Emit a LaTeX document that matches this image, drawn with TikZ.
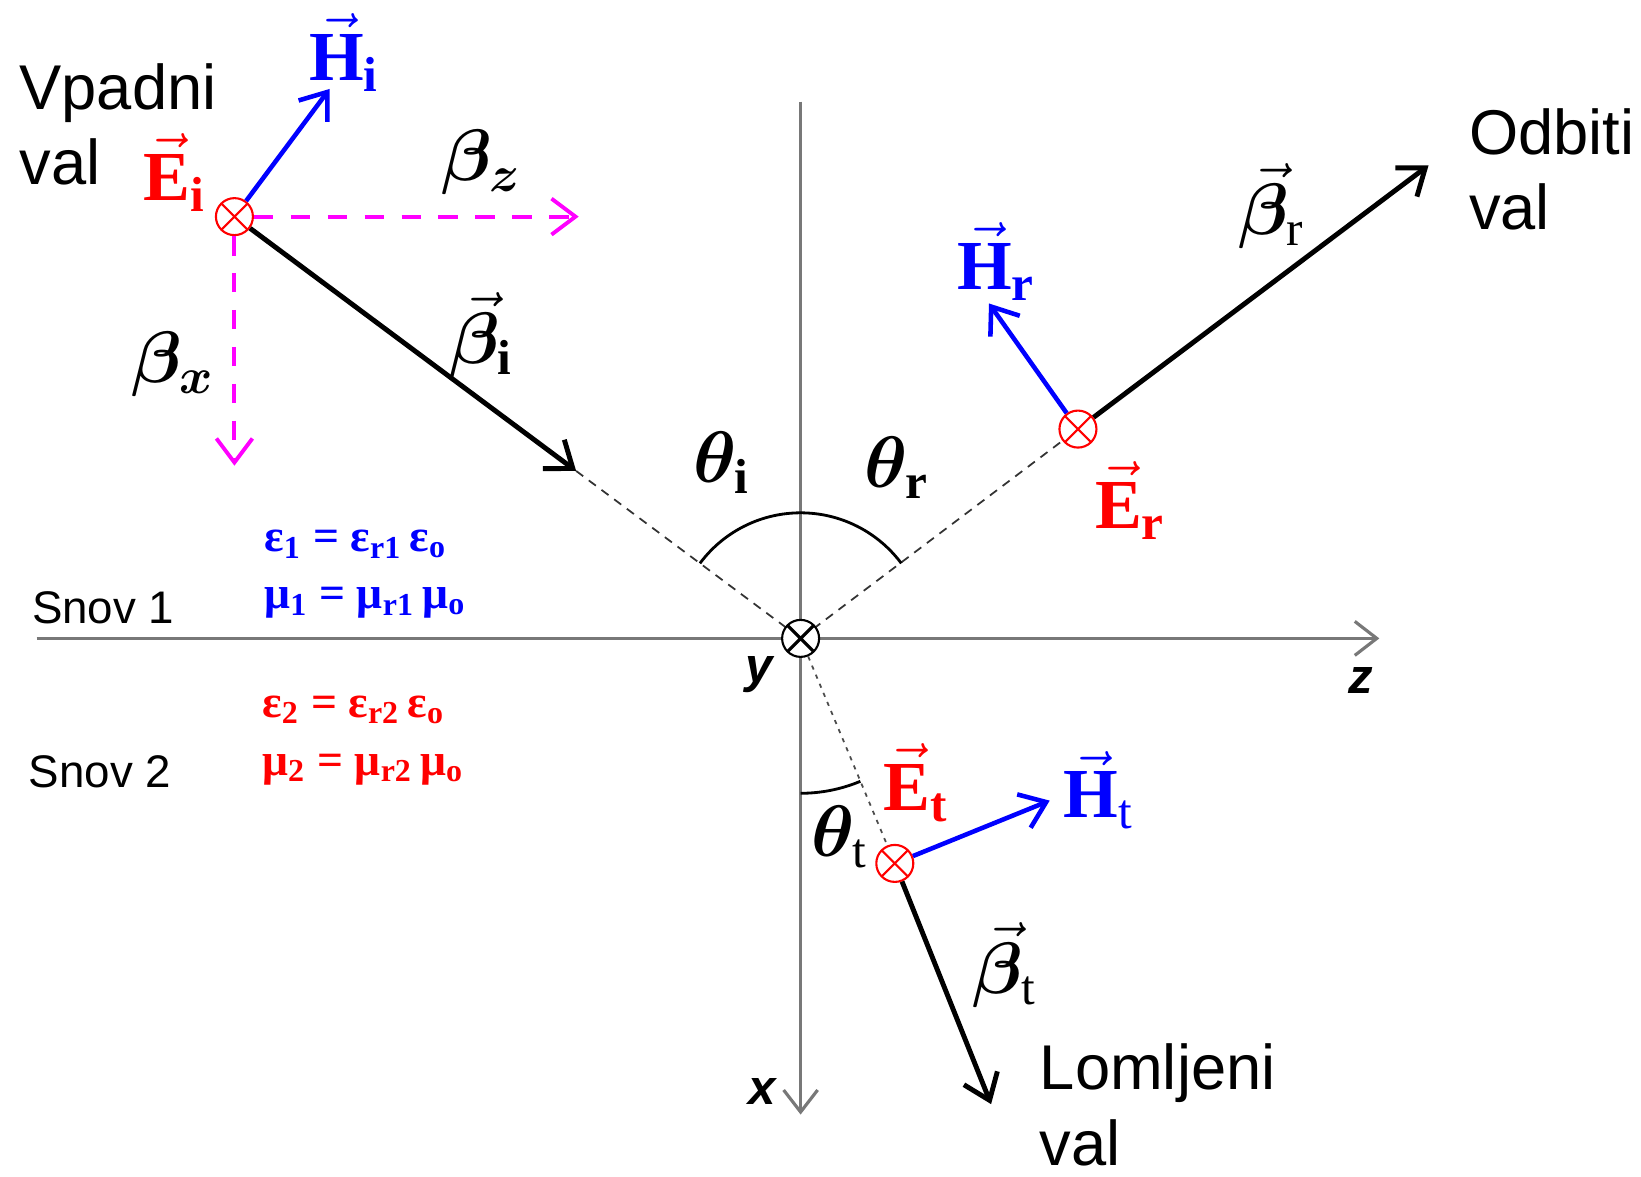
\documentclass[tikz,border=0pt]{standalone}
\usepackage{bm}
\usepackage{fontspec}
\setmainfont{Liberation Serif}
\setsansfont{Liberation Sans}
\usetikzlibrary{arrows.meta}
\tikzset{>={Straight Barb[length=2.4mm, width=3.6mm]}}
\definecolor{axisgray}{RGB}{120,120,120}
\definecolor{compmag}{RGB}{255,0,255}

\begin{document}
\begin{tikzpicture}[
    x=1.0466cm, y=1.0466cm,
    axis/.style={->, draw=axisgray, line width=0.9pt,
                 >={Straight Barb[length=2.2mm, width=3.4mm]}},
    axlabel/.style={font=\sffamily\bfseries\itshape\fontsize{14}{16}\selectfont,
                    inner sep=0pt},
    field/.style={circle, draw=red, fill=white, line width=0.6pt,
                  minimum size=3.7mm, inner sep=0pt,
                  path picture={\draw[red, line width=0.6pt]
                    (path picture bounding box.south west) -- (path picture bounding box.north east)
                    (path picture bounding box.north west) -- (path picture bounding box.south east);}},
    origin/.style={field, draw=black, path picture={\draw[black, line width=0.9pt]
                    (path picture bounding box.south west) -- (path picture bounding box.north east)
                    (path picture bounding box.north west) -- (path picture bounding box.south east);}},
    bvec/.style={->, line width=1.4pt},
    hvec/.style={->, blue, line width=1.3pt},
    comp/.style={->, compmag, line width=1.1pt, dash pattern=on 5.5pt off 5pt},
    guide/.style={black!80, line width=0.5pt, dash pattern=on 2.5pt off 2pt},
    dotguide/.style={black!70, line width=0.5pt, dash pattern=on 1.2pt off 1.6pt},
    angarc/.style={line width=0.8pt},
    sym/.style={font=\fontsize{20}{24}\selectfont, inner sep=0pt},
    wave/.style={font=\sffamily\fontsize{18}{21.5}\selectfont, align=left,
                 anchor=north west, inner sep=0pt},
    medium/.style={font=\sffamily\fontsize{13}{16}\selectfont, anchor=west, inner sep=0pt},
    eq/.style={font=\bfseries\fontsize{13}{16}\selectfont, anchor=west, inner sep=0pt},
  ]
  \useasboundingbox (-7.65,6.10) rectangle (8.03,-5.14);

  % axes
  \coordinate (zstart) at (-7.30,0);
  \coordinate (zend)   at (5.53,0);
  \coordinate (xstart) at (0,5.13);
  \coordinate (xend)   at (0,-4.55);
  \draw[axis] (zstart) -- (zend);
  \draw[axis] (xstart) -- (xend);
  \node[axlabel] (zlab) at (5.35,-0.40) {z};
  \node[axlabel] (xlab) at (-0.37,-4.33) {x};
  \node[axlabel] (ylab) at (-0.40,-0.35) {y};

  % media
  \node[medium] (snov1) at (-7.35,0.29) {Snov 1};
  \node[medium] (snov2) at (-7.38,-1.27) {Snov 2};
  \node[eq, blue] (eps1) at (-5.13,0.90) {ε\textsubscript{1} = ε\textsubscript{r1}\,ε\textsubscript{o}};
  \node[eq, blue] (mu1)  at (-5.13,0.34) {μ\textsubscript{1} = μ\textsubscript{r1}\,μ\textsubscript{o}};
  \node[eq, red]  (eps2) at (-5.15,-0.68) {ε\textsubscript{2} = ε\textsubscript{r2}\,ε\textsubscript{o}};
  \node[eq, red]  (mu2)  at (-5.15,-1.25) {μ\textsubscript{2} = μ\textsubscript{r2}\,μ\textsubscript{o}};

  % incident wave
  \node[field] (Ei) at (-5.41,4.03) {};
  \coordinate (Hitip) at (-4.50,5.25);
  \coordinate (bitip) at (-2.145,1.60);
  \coordinate (bztip) at (-2.12,4.03);
  \coordinate (bxtip) at (-5.41,1.65);
  \draw[guide] (bitip) -- (0,0);
  \draw[comp] (Ei) -- (bztip);
  \draw[comp] (Ei) -- (bxtip);
  \draw[bvec] (Ei) -- (bitip);
  \draw[hvec] (Ei) -- (Hitip);
  \node[sym, red]  (Eilab) at (-5.98,4.45) {$\vec{\mathbf{E}}_{\mathbf{i}}$};
  \node[sym, blue] (Hilab) at (-4.36,5.60) {$\vec{\mathbf{H}}_{\mathbf{i}}$};
  \node[sym] (bzlab) at (-3.05,4.55) {$\bm{\beta}_{\bm{z}}$};
  \node[sym] (bxlab) at (-6.00,2.62) {$\bm{\beta}_{\bm{x}}$};
  \node[sym] (bilab) at (-3.05,2.90) {$\vec{\bm{\beta}}_{\mathbf{i}}$};
  \node[wave] (vpadni) at (-7.47,5.50) {Vpadni\\val};

  % reflected wave
  \node[field] (Er) at (2.65,2.00) {};
  \coordinate (Hrtip) at (1.80,3.20);
  \coordinate (brtip) at (6.00,4.52);
  \draw[guide] (0,0) -- (Er);
  \draw[bvec] (Er) -- (brtip);
  \draw[hvec] (Er) -- (Hrtip);
  \node[sym, red]  (Erlab) at (3.15,1.32) {$\vec{\mathbf{E}}_{\mathbf{r}}$};
  \node[sym, blue] (Hrlab) at (1.87,3.60) {$\vec{\mathbf{H}}_{\mathbf{r}}$};
  \node[sym] (brlab) at (4.50,4.13) {$\vec{\bm{\beta}}_{\mathrm{r}}$};
  \node[wave] (odbiti) at (6.38,5.07) {Odbiti\\val};

  % angles of incidence and reflection
  \draw[angarc] (0,0) ++(143.3:1.2) arc[start angle=143.3, end angle=36.7, radius=1.2];
  \node[sym] (thi) at (-0.75,1.68) {$\bm{\theta}_{\mathbf{i}}$};
  \node[sym] (thr) at (0.92,1.63) {$\bm{\theta}_{\mathbf{r}}$};

  % transmitted wave
  \node[field] (Et) at (0.90,-2.15) {};
  \coordinate (Httip) at (2.38,-1.55);
  \coordinate (bttip) at (1.82,-4.45);
  \draw[dotguide] (0,0) -- (Et);
  \draw[bvec] (Et) -- (bttip);
  \draw[hvec] (Et) -- (Httip);
  \draw[angarc] (0,0) ++(-90:1.48) arc[start angle=-90, end angle=-67.3, radius=1.48];
  \node[sym, red]  (Etlab) at (1.10,-1.38) {$\vec{\mathbf{E}}_{\mathbf{t}}$};
  \node[sym, blue] (Htlab) at (2.85,-1.45) {$\vec{\mathbf{H}}_{\mathrm{t}}$};
  \node[sym] (thtlab) at (0.37,-1.90) {$\bm{\theta}_{\mathrm{t}}$};
  \node[sym] (btlab) at (1.95,-3.12) {$\vec{\bm{\beta}}_{\mathrm{t}}$};
  \node[wave] (lomljeni) at (2.28,-3.87) {Lomljeni\\val};

  \node[origin] (O) at (0,0) {};
\end{tikzpicture}
\end{document}
